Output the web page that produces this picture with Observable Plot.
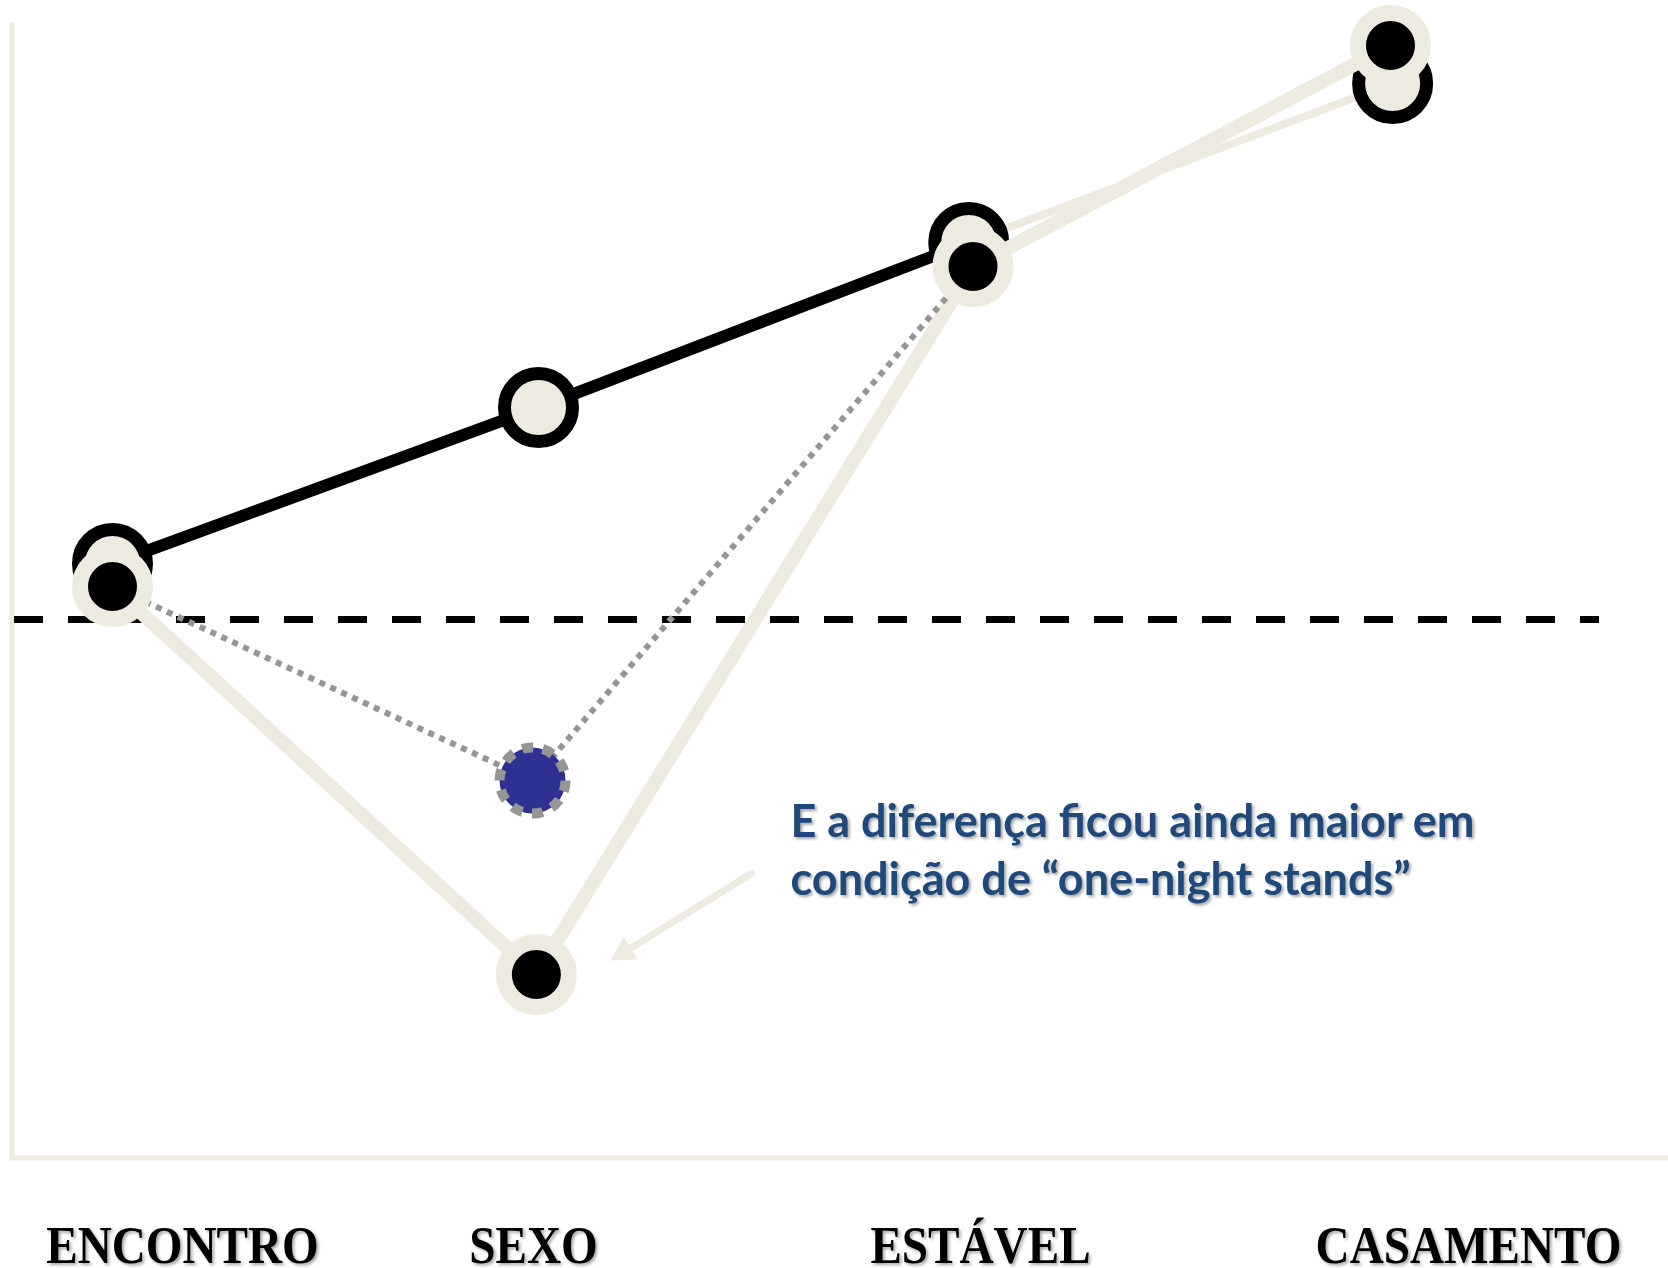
<!DOCTYPE html>
<html>
<head>
<meta charset="utf-8">
<script src="https://cdn.jsdelivr.net/npm/d3@7"></script>
<script src="https://cdn.jsdelivr.net/npm/@observablehq/plot@0.6"></script>
<style>
  html, body { margin: 0; padding: 0; background: #ffffff; }
  #chart svg { display: block; }
  .stage-label text, .note text { filter: drop-shadow(2px 2px 1.5px rgba(0,0,0,0.35)); }
</style>
</head>
<body>
<div id="chart"></div>
<script>
// ---- data (y is relative to the dashed reference line) ----
const stages = ["ENCONTRO", "SEXO", "ESTÁVEL", "CASAMENTO"];
const seriesBlack = [0.56, 2.12, 3.77, 5.36];      // black-ringed series
const seriesBlackPos = [0, 1, 2.01, 3.005];        // slight horizontal placement
const seriesCream = [0.33, -3.55, 3.53, 5.74];     // cream-ringed series
const seriesCreamPos = [0, 0.995, 2.02, 3];
const oneNightStages = ["ENCONTRO", "SEXO", "ESTÁVEL"];
const oneNightValues = [0.33, -1.61, 3.53];        // dotted path through the blue point
const oneNightPos = [0, 0.986, 2.02];
const referenceLevel = [0];
const noteLines = ["E a diferença ficou ainda maior em", "condição de “one-night stands”"];
const noteArrow = [{x1: 1.5, y1: -2.54, x2: 1.17, y2: -3.41}];

// ---- tables built from the arrays ----
const blackRows = stages.map((s, i) => ({stage: s, x: seriesBlackPos[i], v: seriesBlack[i]}));
const creamRows = stages.map((s, i) => ({stage: s, x: seriesCreamPos[i], v: seriesCream[i]}));
const oneNightRows = oneNightStages.map((s, k) => ({stage: s, x: oneNightPos[k], v: oneNightValues[k]}));
const bluePoint = oneNightRows.filter(d => d.stage === "SEXO");
const labelRows = stages.map((s, i) => ({stage: s, i}));

// ---- styles ----
const cream = "#EDEBE0";
const labelNudge = [70, -5, 16, 78];

const labelMarks = labelRows.map((row, k) => Plot.text([row], {
  x: "i", text: "stage", frameAnchor: "bottom", lineAnchor: "bottom", textAnchor: "middle",
  dy: 104.5, dx: labelNudge[k], fill: "#000", fontSize: 53, fontWeight: "bold",
  fontFamily: "Liberation Serif, Times New Roman, serif", className: "stage-label"
}));

const noteStyle = {
  text: d => d, frameAnchor: "top-left", dx: 778.5, lineAnchor: "bottom", textAnchor: "start",
  fill: "#1F497D", fontSize: 45, fontWeight: "bold", fontFamily: "Lato, Open Sans, sans-serif", className: "note"
};

const chart = Plot.plot({
  width: 1668,
  height: 1268,
  marginLeft: 11.5,
  marginRight: 0,
  marginTop: 24,
  marginBottom: 110.5,
  x: {domain: [-0.2359, 3.6526], axis: null},
  y: {domain: [-5.385, 5.95], axis: null},
  style: {background: "#ffffff", overflow: "visible"},
  marks: [
    Plot.frame({anchor: "left", stroke: cream, strokeWidth: 5, strokeLinecap: "square"}),
    Plot.frame({anchor: "bottom", stroke: cream, strokeWidth: 5}),
    Plot.ruleY(referenceLevel, {stroke: "#000", strokeWidth: 7, strokeDasharray: "29,25", insetLeft: 2.5, insetRight: 69}),
    Plot.line(blackRows.slice(0, 3), {x: "x", y: "v", stroke: "#000", strokeWidth: 12}),
    Plot.line(blackRows.slice(2), {x: "x", y: "v", stroke: cream, strokeWidth: 8}),
    Plot.dot(blackRows, {x: "x", y: "v", r: 34, fill: cream, stroke: "#000", strokeWidth: 13}),
    Plot.line(creamRows, {x: "x", y: "v", stroke: cream, strokeWidth: 14}),
    Plot.line(oneNightRows, {x: "x", y: "v", stroke: "#969696", strokeWidth: 6, strokeDasharray: "6,6", strokeLinecap: "butt"}),
    Plot.dot(bluePoint, {x: "x", y: "v", r: 33, fill: "#2E3192", stroke: "#969696", strokeWidth: 10, strokeDasharray: "11,9.7"}),
    Plot.dot(creamRows, {x: "x", y: "v", r: 32.5, fill: "#000", stroke: cream, strokeWidth: 16}),
    Plot.arrow(noteArrow, {x1: "x1", y1: "y1", x2: "x2", y2: "y2", stroke: cream, strokeWidth: 7, headLength: 0, insetEnd: 16}),
    Plot.dot(noteArrow, {x: "x2", y: "y2", symbol: "triangle", r: 10, fill: cream, stroke: "none", rotate: 238, dx: 13.2, dy: -8.2}),
    Plot.text([noteLines[0]], {...noteStyle, dy: 812}),
    Plot.text([noteLines[1]], {...noteStyle, dy: 870}),
    ...labelMarks
  ]
});

document.getElementById("chart").append(chart);

// condense the serif stage labels slightly, as in the original
d3.select(chart).selectAll(".stage-label text").each(function () {
  const len = this.getComputedTextLength();
  this.setAttribute("textLength", (len * 0.89).toFixed(1));
  this.setAttribute("lengthAdjust", "spacingAndGlyphs");
});
</script>
</body>
</html>
